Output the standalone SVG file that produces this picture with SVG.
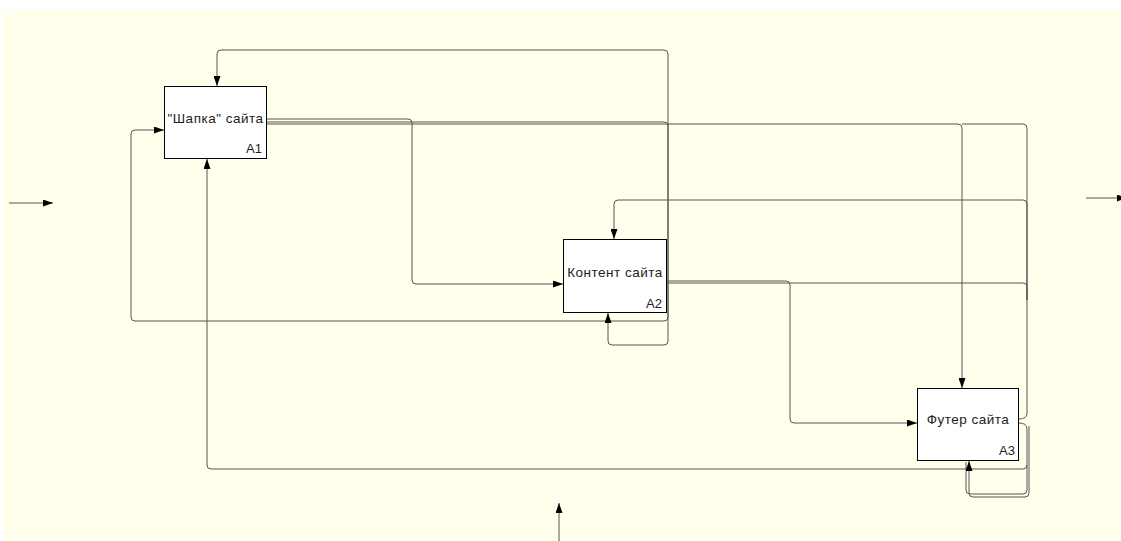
<svg xmlns="http://www.w3.org/2000/svg" width="1121" height="541" viewBox="0 0 1121 541">
<defs>
<marker id="arr" viewBox="0 0 10 7" refX="10" refY="3.5" markerWidth="10" markerHeight="7" markerUnits="userSpaceOnUse" orient="auto">
<path d="M0,0 L10,3.5 L0,7 z" fill="#000"/>
</marker>
<style>
.bg{fill:#FFFFEB}
.box{fill:#fff;stroke:#000;stroke-width:1}
.lbl{font-family:"Liberation Sans",Arial,sans-serif;font-size:13.5px;letter-spacing:0.5px;fill:#222;text-anchor:middle}
.num{font-family:"Liberation Sans",Arial,sans-serif;font-size:13px;fill:#222;text-anchor:end}
.c{fill:none;stroke:#555;stroke-width:1}
.a{marker-end:url(#arr)}
</style>
</defs>
<rect class="bg" x="3" y="10" width="1118" height="531"/>
<g id="connectors">
<path class="c a" d="M9,203 H53"/>
<path class="c a" d="M1086,198 H1127"/>
<path class="c a" d="M559,541 V503"/>
<path class="c a" d="M267,119 H408 Q412,119 412,123 V280 Q412,284 416,284 H563"/>
<path class="c a" d="M267,122 H664 Q668,122 668,126 V317 Q668,321 664,321 H135 Q131,321 131,317 V134 Q131,130 135,130 H164"/>
<path class="c a" d="M668,122 V54 Q668,50 664,50 H221 Q217,50 217,54 V86"/>
<path class="c a" d="M668,122 V341 Q668,345 664,345 H612 Q608,345 608,341 V313"/>
<path class="c a" d="M267,124 H958 Q962,124 962,128 V388"/>
<path class="c" d="M1019,419 Q1027,419 1027,413 V128 Q1027,124 1023,124 H962"/>
<path class="c a" d="M1027,300 V204 Q1027,200 1023,200 H618 Q614,200 614,204 V239"/>
<path class="c" d="M1027,300 V287 Q1027,283 1023,283 H667"/>
<path class="c a" d="M667,281 H786 Q790,281 790,285 V419 Q790,423 794,423 H917"/>
<path class="c a" d="M1019,423 Q1027,423 1027,429 V465 Q1027,469 1023,469 H211 Q207,469 207,465 V159"/>
<path class="c" d="M1027,465 V490 Q1027,494 1023,494 H970 Q966,494 966,490 V462"/>
<path class="c a" d="M1029,426 V493 Q1029,497 1025,497 H973 Q969,497 969,493 V461"/>
</g>
<g id="A1">
<rect class="box" x="164.5" y="86.5" width="102" height="72"/>
<text class="lbl" x="215.5" y="123">"Шапка" сайта</text>
<text class="num" x="262" y="153">A1</text>
</g>
<g id="A2">
<rect class="box" x="563.5" y="239.5" width="103" height="73"/>
<text class="lbl" x="615" y="277">Контент сайта</text>
<text class="num" x="662" y="308">A2</text>
</g>
<g id="A3">
<rect class="box" x="917.5" y="388.5" width="101" height="72"/>
<text class="lbl" x="968" y="424">Футер сайта</text>
<text class="num" x="1015" y="455">A3</text>
</g>
</svg>
